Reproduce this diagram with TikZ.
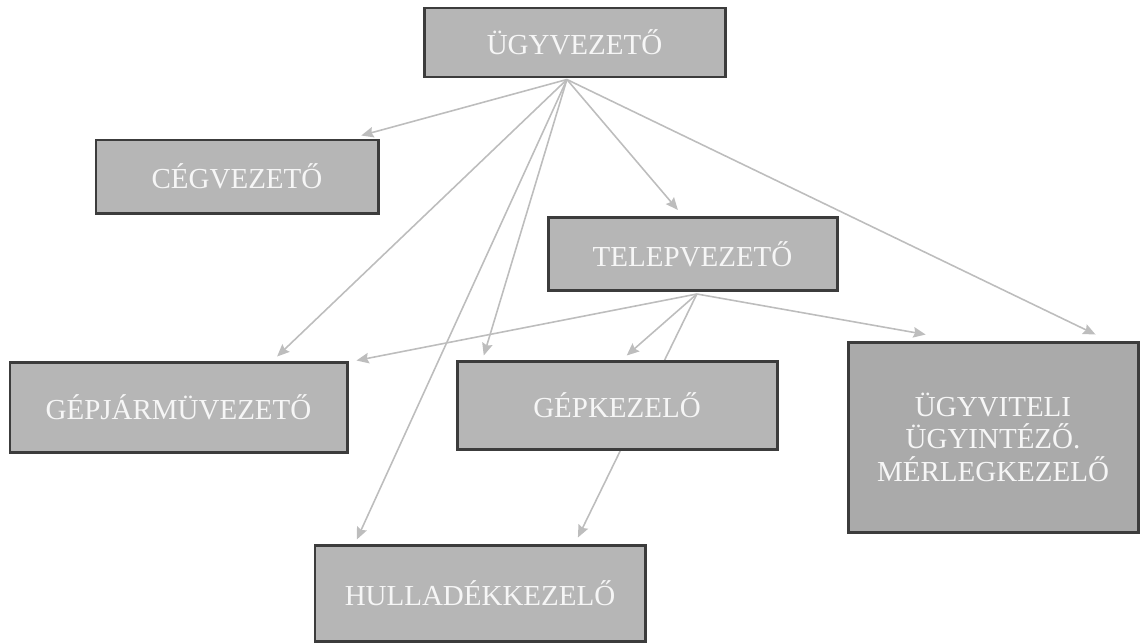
\documentclass[tikz,border=0pt]{standalone}
\usepackage{fontspec}
\setmainfont{Liberation Serif}
\usetikzlibrary{arrows.meta,calc,backgrounds}
\definecolor{boxfill}{HTML}{B6B6B6}
\definecolor{boxfilldark}{HTML}{AAAAAA}
\definecolor{boxline}{HTML}{3C3C3C}
\definecolor{boxtext}{HTML}{F6F6F6}
\definecolor{arrowcol}{HTML}{BDBDBD}
\tikzset{
  orgbox/.style={draw=boxline, line width=1.7pt, fill=boxfill, text=boxtext,
    inner sep=0pt, align=center,
    font=\fontsize{16.5}{18.5}\selectfont},
  link/.style={draw=arrowcol, line width=0.9pt,
    -{Stealth[length=7pt,width=6pt,inset=1pt]}}
}
\begin{document}
\begin{tikzpicture}[x=0.02cm,y=-0.02cm]
\useasboundingbox (0,0) rectangle (1141,643);
\node[orgbox, minimum width=301*0.02cm, minimum height=69*0.02cm] (ugy) at (574.5,42.5) {ÜGYVEZETŐ};
\node[orgbox, minimum width=282*0.02cm, minimum height=73*0.02cm] (ceg) at (237,176.5) {CÉGVEZETŐ};
\node[orgbox, minimum width=289*0.02cm, minimum height=73*0.02cm] (telep) at (692.5,254) {TELEPVEZETŐ};
\node[orgbox, minimum width=337*0.02cm, minimum height=90*0.02cm] (gepj) at (178.5,407) {GÉPJÁRMÜVEZETŐ};
\node[orgbox, minimum width=320*0.02cm, minimum height=88*0.02cm] (gepk) at (617,405) {GÉPKEZELŐ};
\node[orgbox, fill=boxfilldark, minimum width=290*0.02cm, minimum height=190*0.02cm] (ugyv) at (993,437) {ÜGYVITELI\\ÜGYINTÉZŐ.\\MÉRLEGKEZELŐ};
\node[orgbox, minimum width=330*0.02cm, minimum height=96*0.02cm] (hull) at (480,593) {HULLADÉKKEZELŐ};
\coordinate (us) at ($(ugy.south west)!0.475!(ugy.south east)+(0,1)$);
\coordinate (ts) at ($(telep.south west)!0.515!(telep.south east)+(0,2)$);
\begin{scope}[on background layer]
\draw[link] (us) -- ($(ceg.north west)!0.936!(ceg.north east)+(0,-3)$);
\draw[link] (us) -- ($(telep.north west)!0.45!(telep.north east)+(0,-6)$);
\draw[link] (us) -- ($(gepj.north west)!0.79!(gepj.north east)+(0,-4)$);
\draw[link] (us) -- ($(gepk.north west)!0.0875!(gepk.north east)+(0,-4)$);
\draw[link] (us) -- ($(hull.north west)!0.13!(hull.north east)+(0,-4)$);
\draw[link] (us) -- ($(ugyv.north west)!0.85!(ugyv.north east)+(0,-6)$);
\draw[link] (ts) -- ($(gepj.north east)+(8,0)$);
\draw[link] (ts) -- ($(gepk.north west)!0.53!(gepk.north east)+(0,-4)$);
\draw[link] (ts) -- ($(hull.north west)!0.794!(hull.north east)+(0,-6)$);
\draw[link] (ts) -- ($(ugyv.north west)!0.27!(ugyv.north east)+(0,-6)$);
\end{scope}
\end{tikzpicture}
\end{document}
